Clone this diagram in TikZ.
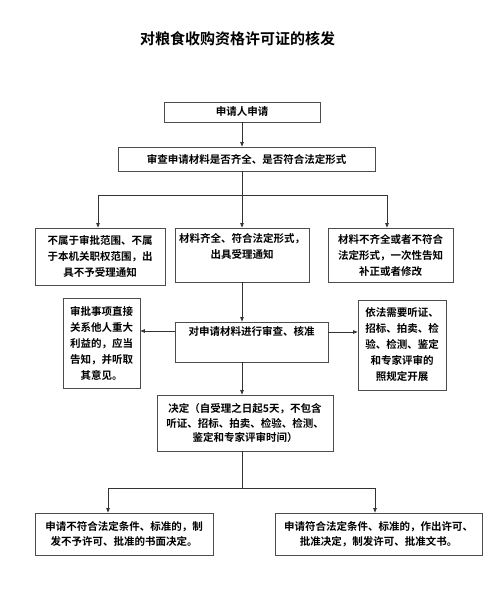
\documentclass[tikz,border=0pt]{standalone}
\usepackage{fontspec}
\setmainfont{Noto Sans CJK SC}[BoldFont={* Bold}]
\usetikzlibrary{arrows.meta}
\tikzset{
  box/.style={draw=black!70, line width=0.8pt, inner sep=0pt, align=center,
    font=\bfseries\fontsize{10.5}{16}\selectfont},
  txt/.style={inner sep=0pt, align=center, font=\bfseries\fontsize{10.5}{16}\selectfont},
  ln/.style={draw=black!80, line width=0.8pt},
  arr/.style={ln, -{Triangle[length=4.5pt,width=3.5pt]}}
}
\begin{document}
\begin{tikzpicture}[x=1pt,y=-1pt]
\useasboundingbox (0,0) rectangle (496,594);
\node[inner sep=0pt, font=\bfseries\fontsize{15}{18}\selectfont] (title) at (237.5,39) {对粮食收购资格许可证的核发};

\node[box, minimum width=156pt, minimum height=20pt] (b1) at (242,112) {申请人申请};
\node[box, minimum width=257pt, minimum height=24pt] (b2) at (246.5,159) {审查申请材料是否齐全、是否符合法定形式};

\node[box, minimum width=130pt, minimum height=57pt] (l3) at (100,256.5) {不属于审批范围、不属\\于本机关职权范围，出\\具不予受理通知};
\node[box, minimum width=134pt, minimum height=54pt] (c3) at (242,255) {};
\node[txt, anchor=north] (c3t) at ([yshift=-6pt]c3.north) {材料齐全、符合法定形式，\\出具受理通知};
\node[box, minimum width=125pt, minimum height=54pt] (r3) at (390.5,255) {材料不齐全或者不符合\\法定形式，一次性告知\\补正或者修改};

\node[box, minimum width=153pt, minimum height=40pt] (m4) at (251.5,342) {};
\node[txt, anchor=north] (m4t) at ([yshift=-5pt]m4.north) {对申请材料进行审查、核准};
\node[box, minimum width=77pt, minimum height=90pt] (l4) at (101.5,343) {审批事项直接\\关系他人重大\\利益的，应当\\告知，并听取\\其意见。};
\node[box, minimum width=88pt, minimum height=90pt] (r4) at (402,345) {依法需要听证、\\招标、拍卖、检\\验、检测、鉴定\\和专家评审的\\照规定开展};

\node[box, minimum width=176pt, minimum height=56pt, font=\bfseries\fontsize{10.5}{14.5}\selectfont] (d5) at (245,423) {决定（自受理之日起5天，不包含\\听证、招标、拍卖、检验、检测、\\鉴定和专家评审时间）};

\node[box, minimum width=178pt, minimum height=42pt, font=\bfseries\fontsize{10.5}{15}\selectfont] (bl) at (124,534) {申请不符合法定条件、标准的，制\\发不予许可、批准的书面决定。};
\node[box, minimum width=207pt, minimum height=42pt, font=\bfseries\fontsize{10.5}{15}\selectfont] (br) at (378.5,534) {申请符合法定条件、标准的，作出许可、\\批准决定，制发许可、批准文书。};

% connectors
\coordinate (s1) at (242,195);
\coordinate (s1l) at (98,195);
\coordinate (s1r) at (387,195);
\draw[arr] (b1.south -| s1) -- (s1 |- b2.north);
\draw[ln] (b2.south -| s1) -- (s1);
\draw[ln] (s1l) -- (s1r);
\draw[arr] (s1l) -- (s1l |- l3.north);
\draw[arr] (s1) -- (s1 |- c3.north);
\draw[arr] (s1r) -- (s1r |- r3.north);
\draw[arr] (c3.south -| s1) -- (s1 |- m4.north);

\coordinate (ml) at ([yshift=11pt]m4.west);
\coordinate (mr) at ([yshift=10pt]m4.east);
\draw[arr] (ml) -- (ml -| l4.east);
\draw[arr] (mr) -- (mr -| r4.west);
\draw[arr] (m4.south -| s1) -- (s1 |- d5.north);

\coordinate (s2) at (242,488);
\coordinate (s2l) at (108,488);
\coordinate (s2r) at (375,488);
\draw[ln] (d5.south -| s2) -- (s2);
\draw[ln] (s2l) -- (s2r);
\draw[arr] (s2l) -- (s2l |- bl.north);
\draw[arr] (s2r) -- (s2r |- br.north);
\end{tikzpicture}
\end{document}
